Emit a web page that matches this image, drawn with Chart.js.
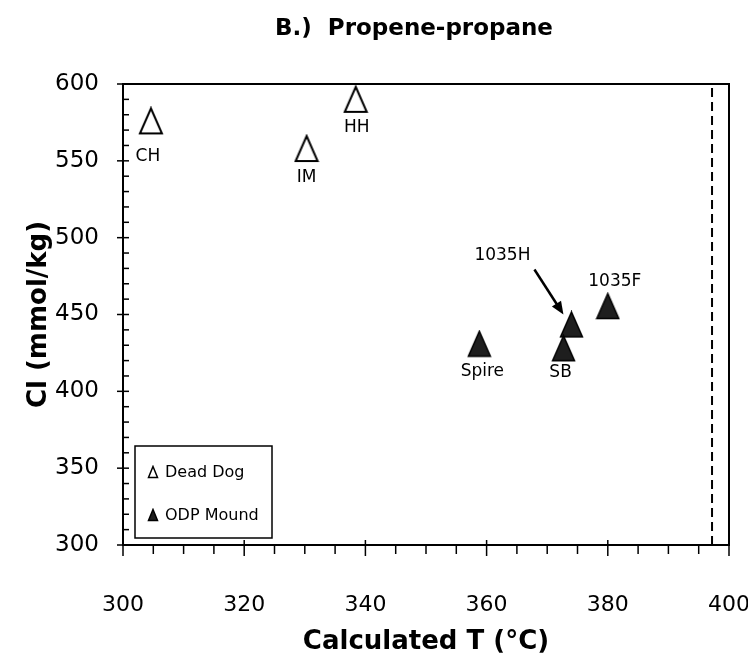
<!DOCTYPE html>
<html>
<head>
<meta charset="utf-8">
<script src="https://cdn.jsdelivr.net/npm/chart.js@4.4.0/dist/chart.umd.min.js"></script>
<style>
  html, body { margin: 0; padding: 0; background: #fff; }
  #wrap { width: 748px; height: 662px; }
</style>
</head>
<body>
<div id="wrap"><canvas id="chart" width="748" height="662"></canvas></div>
<script>
"use strict";

// ---------------- DATA ----------------
const deadDogNames = ["CH", "IM", "HH"];
const deadDogT = [304.6, 330.3, 338.4];
const deadDogCl = [576, 558, 590];

const odpNames = ["Spire", "1035H", "SB", "1035F"];
const odpT = [358.8, 374.0, 372.7, 380.0];
const odpCl = [431, 443.5, 428, 455.5];

const limitT = [397.2, 397.2];
const limitCl = [300, 600];

const xTickStep = 20;
const yTickStep = 50;

// ---------------- STYLE ----------------
const FONT = "'DejaVu Sans', sans-serif";
Chart.defaults.font.family = FONT;
Chart.defaults.color = "#000";

// label offsets (px) from each marker, keyed by name
const labelOffset = {
  CH: [-3, 36], IM: [0, 29], HH: [1, 28],
  Spire: [3, 28], SB: [-3, 24], "1035H": [-69, -69], "1035F": [7, -24],
};

// taller-than-equilateral triangle marker, drawn once to a small canvas
function makeTriangle(w, h, fill, lw) {
  const c = document.createElement("canvas");
  c.width = w + lw * 2;
  c.height = h + lw * 2;
  const g = c.getContext("2d");
  g.beginPath();
  g.moveTo(c.width / 2, lw);
  g.lineTo(c.width - lw, c.height - lw);
  g.lineTo(lw, c.height - lw);
  g.closePath();
  g.fillStyle = fill;
  g.fill();
  g.lineWidth = lw;
  g.strokeStyle = "#000";
  g.stroke();
  return c;
}

const openTri = makeTriangle(22, 25, "#fff", 2);
const fullTri = makeTriangle(22, 25, "#1e1e1e", 1.5);
const openTriSmall = makeTriangle(9, 11, "#fff", 1.5);
const fullTriSmall = makeTriangle(9, 11, "#1e1e1e", 1.5);

const toPoints = (xs, ys) => xs.map((v, i) => ({ x: v, y: ys[i] }));

// ---------------- PLUGIN: frame, ticks, labels, legend ----------------
const decorations = {
  id: "decorations",
  afterDraw(chart) {
    const { ctx, chartArea: a, scales: { x, y } } = chart;
    ctx.save();

    // title
    ctx.fillStyle = "#000";
    ctx.font = "bold 23px " + FONT;
    ctx.textAlign = "center";
    ctx.textBaseline = "middle";
    ctx.fillText("B.)  Propene-propane", 414, 29);

    // frame
    ctx.strokeStyle = "#000";
    ctx.lineWidth = 2;
    ctx.strokeRect(a.left, a.top, a.right - a.left, a.bottom - a.top);

    // x ticks: minor every 5, major every 20, hanging below axis
    ctx.lineWidth = 1.5;
    for (let v = x.min; v <= x.max; v += 5) {
      const px = x.getPixelForValue(v);
      const major = v % xTickStep === 0;
      ctx.beginPath();
      ctx.moveTo(px, a.bottom - (major ? 5 : 0));
      ctx.lineTo(px, a.bottom + (major ? 11 : 9));
      ctx.stroke();
    }
    // y ticks: minor every 10 inside, major every 50 crossing
    for (let v = y.min; v <= y.max; v += 10) {
      const py = y.getPixelForValue(v);
      const major = v % yTickStep === 0;
      ctx.beginPath();
      ctx.moveTo(a.left - (major ? 6 : 0), py);
      ctx.lineTo(a.left + 6, py);
      ctx.stroke();
    }

    // point labels
    ctx.font = "17px " + FONT;
    const label = (names, meta) => {
      names.forEach((n, i) => {
        const el = meta.data[i];
        const o = labelOffset[n];
        ctx.fillText(n, el.x + o[0], el.y + o[1]);
      });
    };
    label(deadDogNames, chart.getDatasetMeta(0));
    label(odpNames, chart.getDatasetMeta(1));

    // arrow from 1035H label to its marker
    const h = chart.getDatasetMeta(1).data[odpNames.indexOf("1035H")];
    const sx = h.x - 37, sy = h.y - 55;
    const tx = h.x - 8, ty = h.y - 10;
    const ang = Math.atan2(ty - sy, tx - sx);
    ctx.lineWidth = 2.5;
    ctx.beginPath();
    ctx.moveTo(sx, sy);
    ctx.lineTo(tx - 8 * Math.cos(ang), ty - 8 * Math.sin(ang));
    ctx.stroke();
    ctx.beginPath();
    ctx.moveTo(tx, ty);
    ctx.lineTo(tx - 14 * Math.cos(ang - 0.4), ty - 14 * Math.sin(ang - 0.4));
    ctx.lineTo(tx - 14 * Math.cos(ang + 0.4), ty - 14 * Math.sin(ang + 0.4));
    ctx.closePath();
    ctx.fill();

    // legend box, bottom-left inside the plot
    const bx = a.left + 12, by = a.bottom - 99, bw = 137, bh = 92;
    ctx.fillStyle = "#fff";
    ctx.fillRect(bx, by, bw, bh);
    ctx.lineWidth = 1.5;
    ctx.strokeRect(bx, by, bw, bh);
    ctx.fillStyle = "#000";
    ctx.textAlign = "left";
    ctx.font = "16px " + FONT;
    const rows = [
      [openTriSmall, chart.data.datasets[0].label, 26],
      [fullTriSmall, chart.data.datasets[1].label, 69],
    ];
    rows.forEach(([img, txt, dy]) => {
      ctx.drawImage(img, bx + 12, by + dy - img.height / 2);
      ctx.fillText(txt, bx + 30, by + dy + 1);
    });

    ctx.restore();
  },
};

// ---------------- CHART ----------------
new Chart(document.getElementById("chart"), {
  type: "scatter",
  data: {
    datasets: [
      {
        label: "Dead Dog",
        data: toPoints(deadDogT, deadDogCl),
        pointStyle: openTri,
        clip: false,
      },
      {
        label: "ODP Mound",
        data: toPoints(odpT, odpCl),
        pointStyle: fullTri,
        clip: false,
      },
      {
        label: "limit",
        data: toPoints(limitT, limitCl),
        showLine: true,
        pointRadius: 0,
        borderColor: "#000",
        borderWidth: 2,
        borderDash: [9, 5],
      },
    ],
  },
  options: {
    responsive: false,
    animation: false,
    devicePixelRatio: 1,
    events: [],
    layout: { padding: { top: 84, right: 19, left: 0, bottom: 0 } },
    plugins: {
      legend: { display: false },
      tooltip: { enabled: false },
      title: { display: false },
    },
    scales: {
      x: {
        type: "linear",
        min: 300,
        max: 400,
        // invisible tick marks push the labels down without adding side padding
        grid: {
          display: true,
          drawOnChartArea: false,
          drawTicks: true,
          tickLength: 44,
          tickColor: "rgba(0,0,0,0)",
          color: "rgba(0,0,0,0)",
        },
        border: { display: false },
        ticks: { stepSize: xTickStep, font: { size: 22 }, padding: 3 },
        title: {
          display: true,
          text: "Calculated T (°C)",
          font: { size: 26, weight: "bold" },
          padding: { top: 0, bottom: 4 },
        },
        afterFit: (s) => { s.height = 117; s.paddingRight = 0; },
      },
      y: {
        type: "linear",
        min: 300,
        max: 600,
        grid: { display: false, drawTicks: false },
        border: { display: false },
        ticks: { stepSize: yTickStep, font: { size: 23 }, padding: 24 },
        title: {
          display: true,
          text: "Cl (mmol/kg)",
          font: { size: 26, weight: "bold" },
          padding: { top: 24, bottom: 0 },
        },
        afterFit: (s) => { s.width = 123; },
      },
    },
  },
  plugins: [decorations],
});
</script>
</body>
</html>
